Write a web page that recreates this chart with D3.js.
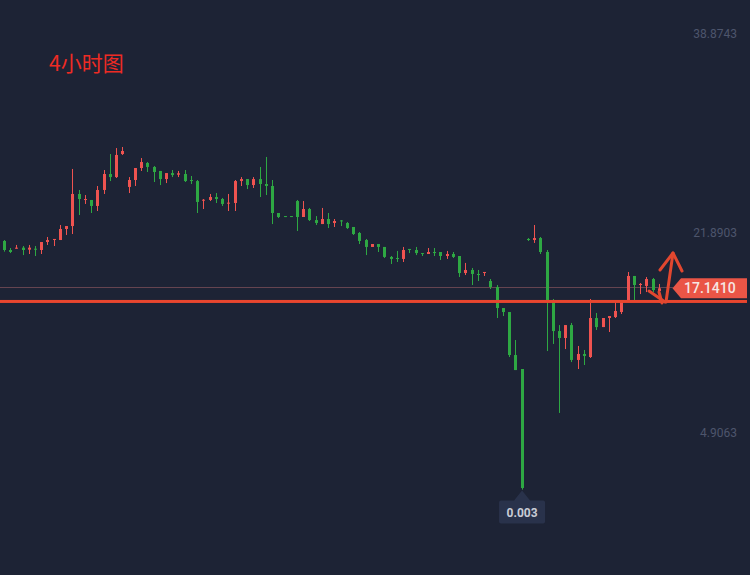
<!DOCTYPE html>
<html><head><meta charset="utf-8">
<script src="https://cdn.jsdelivr.net/npm/d3@7/dist/d3.min.js"></script>
<style>html,body{margin:0;padding:0;background:#1d2335;}svg{display:block;}</style>
</head><body>
<svg id="c" width="750" height="575"></svg>
<script>
const title = "4小时图";
const yTicks = [38.8743, 21.8903, 4.9063];
const lastPrice = 17.1410;
const linePrice = 16.02;
const lowLabel = "0.003";
const lowIndex = 83;
const opens = [21.17,20.40,20.51,20.60,20.43,20.51,20.40,21.08,21.28,21.25,22.19,22.44,25.17,24.66,24.66,24.15,25.51,26.87,26.61,28.57,
25.77,26.36,27.38,27.81,27.47,27.13,26.44,26.95,26.81,26.87,26.36,26.27,24.60,24.66,24.91,24.74,24.38,24.40,26.27,26.44,
25.93,26.44,26.02,25.85,23.55,23.29,23.29,24.57,23.21,23.89,22.95,22.61,23.04,22.70,22.92,22.70,22.36,21.85,21.25,20.66,
20.91,20.66,19.81,19.72,19.64,20.49,20.40,20.14,20.06,20.23,20.23,19.89,20.06,19.89,18.44,18.70,18.36,18.44,17.76,17.25,
15.46,15.12,11.46,10.27,21.34,21.25,21.42,20.23,16.14,13.50,12.91,14.01,11.04,11.55,11.29,14.61,13.84,14.61,14.69,15.12,
16.14,18.19,17.42,17.34,17.93,16.91];
const highs = [21.25,20.57,20.83,20.74,20.83,20.74,21.08,21.51,21.34,22.53,22.44,27.30,25.51,25.08,24.66,25.85,27.21,28.57,29.08,29.17,
26.61,27.38,28.23,27.89,27.55,27.13,26.95,27.21,27.13,27.21,26.70,26.36,24.74,25.17,25.25,24.83,25.17,26.36,26.61,26.44,
26.61,27.47,28.32,26.36,23.55,23.29,23.29,24.66,24.57,23.98,23.29,23.98,23.55,23.04,22.95,22.78,22.36,21.93,21.34,20.91,
20.91,20.66,19.89,20.32,20.66,20.49,20.66,20.14,20.57,20.57,20.23,20.32,20.23,19.89,19.30,18.87,18.70,18.53,17.93,17.42,
15.46,15.12,12.74,10.27,21.42,22.53,21.51,20.40,16.23,14.01,14.01,14.19,12.23,11.89,16.23,15.04,14.61,14.78,16.14,15.97,
18.53,18.19,17.59,18.10,18.02,17.51];
const lows = [20.26,20.14,20.51,19.97,20.06,19.89,20.06,20.83,20.74,21.25,21.68,21.76,23.38,24.32,23.55,23.72,25.17,26.27,26.53,28.49,
25.25,25.85,27.13,27.04,26.19,25.93,26.10,26.61,26.61,26.19,26.02,23.55,23.89,24.57,24.40,24.15,23.72,23.72,25.85,25.59,
25.68,24.91,25.08,22.61,23.12,23.21,23.21,22.02,23.21,22.87,22.53,22.61,22.27,22.36,22.44,22.19,21.68,20.91,19.97,20.66,
20.23,19.72,19.21,19.38,19.38,20.14,19.97,19.89,20.06,19.89,19.55,19.64,19.72,18.10,18.27,17.42,17.76,18.19,17.08,14.61,
14.78,11.29,10.18,0.003,21.17,21.00,20.06,11.80,12.40,6.53,11.97,10.86,10.27,10.61,11.21,13.59,13.84,13.42,14.61,14.95,
16.14,16.14,16.65,16.82,16.82,15.89];
const closes = [20.40,20.23,20.60,20.40,20.60,20.46,21.08,21.25,21.34,22.19,22.44,25.17,24.74,24.74,24.15,25.51,26.87,26.61,28.49,28.83,
26.36,27.38,27.89,27.47,27.04,26.44,26.95,26.78,26.93,26.27,26.27,24.49,24.68,24.91,24.74,24.32,24.43,26.27,26.44,25.93,
26.44,26.02,25.85,23.55,23.21,23.21,23.21,23.21,23.89,22.95,22.70,23.04,22.61,22.87,22.87,22.27,21.76,21.17,20.66,20.91,
20.66,19.81,19.64,19.64,20.40,20.40,20.14,20.06,20.23,20.14,19.89,20.06,19.81,18.44,18.70,18.36,18.27,18.53,17.25,15.46,
15.12,11.46,10.18,0.14,21.25,21.42,20.23,16.14,13.50,12.91,14.01,11.04,11.55,11.38,14.61,13.84,14.61,14.78,15.21,15.97,
18.19,17.42,17.51,17.93,16.99,17.14];
const candleIds = d3.range(opens.length);

const upColor = "#ef5350", downColor = "#2ea843";
const svg = d3.select("#c");
svg.append("rect").attr("width",750).attr("height",575).attr("fill","#1d2335");

const x = d3.scaleBand().domain(candleIds).range([1.2, 662.4]).padding(0);
const y = d3.scaleLinear().domain([yTicks[2], yTicks[0]]).range([432, 33]);

// y labels
svg.append("g").selectAll("text").data(yTicks).join("text")
  .attr("x",737).attr("y",d=>y(d)+4.5).attr("text-anchor","end")
  .attr("font-family","Roboto, 'Noto Sans', sans-serif").attr("font-size",12).attr("fill","#4d556c")
  .text(d=>d.toFixed(4));

// title
svg.append("text").attr("x",49).attr("y",71).attr("font-family","'Noto Sans CJK SC', sans-serif")
  .attr("font-size",21).attr("fill","#ee2b24").text(title);

// last price thin line
svg.append("line").attr("x1",0).attr("x2",673).attr("y1",Math.round(y(lastPrice))-0.5).attr("y2",Math.round(y(lastPrice))-0.5)
  .attr("stroke","#654450").attr("stroke-width",1);

// candles
const g = svg.append("g");
candleIds.forEach(i=>{
  const o=opens[i],h=highs[i],l=lows[i],c=closes[i];
  const col = c>=o ? upColor : downColor;
  const cx = x(i)+x.bandwidth()/2;
  const x0 = Math.round(cx-1.5);
  g.append("rect").attr("x",x0+1).attr("width",1)
    .attr("y",y(h)).attr("height",Math.max(1,y(l)-y(h))).attr("fill",col);
  const top=y(Math.max(o,c)), bot=y(Math.min(o,c));
  g.append("rect").attr("x",x0).attr("width",3)
    .attr("y",top).attr("height",Math.max(1,bot-top)).attr("fill",col);
});

// thick horizontal line
svg.append("rect").attr("x",0).attr("width",747).attr("y",y(linePrice)-1.5).attr("height",3).attr("fill","#e8462f");

// price label
const py = y(lastPrice);
svg.append("path").attr("d",`M672.5,${py} L681,${py-10} L747,${py-10} L747,${py+10} L681,${py+10} Z`).attr("fill","#ea5546");
svg.append("text").attr("x",684).attr("y",py+5).
  attr("font-family","Roboto, 'Noto Sans', sans-serif").attr("font-size",14).attr("font-weight",500)
  .attr("fill","#f6e6e3").text(lastPrice.toFixed(4));

// low label
const lx = x(lowIndex)+x.bandwidth()/2, ly = y(lows[lowIndex]);
svg.append("path").attr("d",`M${lx},${ly+1} L${lx+8},${ly+11} L${lx+21},${ly+11} Q${lx+23},${ly+11} ${lx+23},${ly+13} L${lx+23},${ly+32} Q${lx+23},${ly+34} ${lx+21},${ly+34} L${lx-21},${ly+34} Q${lx-23},${ly+34} ${lx-23},${ly+32} L${lx-23},${ly+13} Q${lx-23},${ly+11} ${lx-21},${ly+11} L${lx-8},${ly+11} Z`)
  .attr("fill","#29324b");
svg.append("text").attr("x",lx).attr("y",ly+27).attr("text-anchor","middle")
  .attr("font-family","Roboto, 'Noto Sans', sans-serif").attr("font-size",12).attr("font-weight",700)
  .attr("fill","#c8ccd6").text(lowLabel);

// hand-drawn arrows
const ag = svg.append("g").attr("fill","none").attr("stroke","#e2472f").attr("stroke-width",3).attr("stroke-linecap","round").attr("stroke-linejoin","round");
ag.append("path").attr("d","M666,302 L673,253");
ag.append("path").attr("d","M660,270 L673,253 L682,271");
ag.append("path").attr("d","M649,291 L665,302");
ag.append("path").attr("d","M659,292 L662,303");
</script>
</body></html>
